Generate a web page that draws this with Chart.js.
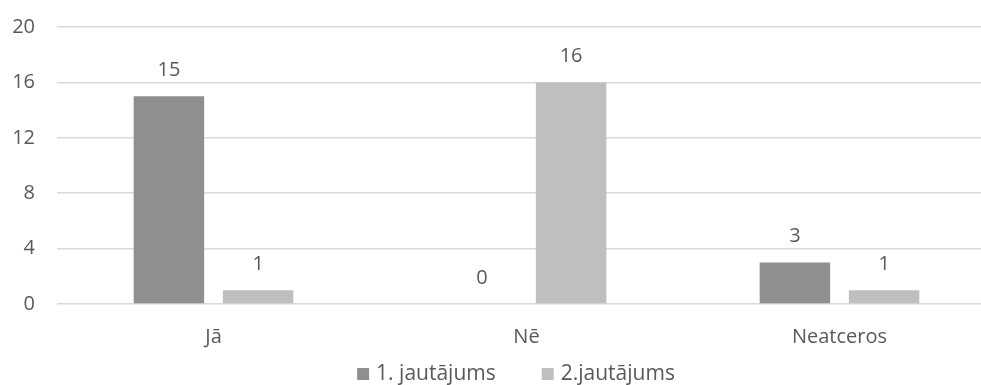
<!DOCTYPE html>
<html>
<head>
<meta charset="utf-8">
<script src="https://cdn.jsdelivr.net/npm/chart.js@4"></script>
<style>
  html, body { margin: 0; padding: 0; background: #fff; overflow: hidden; }
  #wrap { width: 996px; height: 385px; }
</style>
</head>
<body>
<div id="wrap"><canvas id="answersChart"></canvas></div>
<script>
  const categories = ["Jā", "Nē", "Neatceros"];
  const question1 = [15, 0, 3];
  const question2 = [1, 16, 1];
  const seriesNames = ["1. jautājums", "2.jautājums"];
  const yTicks = [0, 4, 8, 12, 16, 20];

  const textColor = "#595959";
  const fontFamily = "'Open Sans', 'Liberation Sans', sans-serif";

  // draws the value above each bar
  const valueLabels = {
    id: "valueLabels",
    afterDatasetsDraw(chart) {
      const ctx = chart.ctx;
      ctx.save();
      ctx.fillStyle = textColor;
      ctx.font = "20px " + fontFamily;
      ctx.textAlign = "center";
      ctx.textBaseline = "bottom";
      chart.data.datasets.forEach((ds, i) => {
        const meta = chart.getDatasetMeta(i);
        meta.data.forEach((bar, j) => {
          ctx.fillText(ds.data[j], bar.x, bar.y - 16);
        });
      });
      ctx.restore();
    }
  };

  // legend at the bottom, spaced like the office chart
  const bottomLegend = {
    id: "bottomLegend",
    afterDraw(chart) {
      const ctx = chart.ctx;
      ctx.save();
      ctx.font = "21px " + fontFamily;
      ctx.textBaseline = "alphabetic";
      const box = 12, gapBox = 7, gapItem = 46;
      const widths = chart.data.datasets.map(ds => ctx.measureText(ds.label).width);
      let total = 0;
      widths.forEach((w, i) => { total += box + gapBox + w + (i ? gapItem : 0); });
      let x = 516 - total / 2;
      const baseline = 380;
      chart.data.datasets.forEach((ds, i) => {
        ctx.fillStyle = ds.backgroundColor;
        ctx.fillRect(x, baseline - box, box, box);
        ctx.fillStyle = textColor;
        ctx.fillText(ds.label, x + box + gapBox, baseline);
        x += box + gapBox + widths[i] + gapItem;
      });
      ctx.restore();
    }
  };

  new Chart("answersChart", {
    type: "bar",
    data: {
      labels: categories,
      datasets: [{
        label: seriesNames[0],
        backgroundColor: "#8f8f8f",
        data: question1
      }, {
        label: seriesNames[1],
        backgroundColor: "#bfbfbf",
        data: question2
      }]
    },
    options: {
      responsive: true,
      maintainAspectRatio: false,
      animation: false,
      datasets: {
        bar: {categoryPercentage: 0.57, barPercentage: 0.79}
      },
      layout: {padding: {top: 27, right: 0, bottom: 23, left: 0}},
      scales: {
        y: {
          min: 0,
          max: 20,
          afterBuildTicks(axis) {
            axis.ticks = yTicks.map(v => ({value: v}));
          },
          afterFit(axis) {
            axis.width = 57;
            axis.paddingTop = 0;
            axis.paddingBottom = 0;
          },
          ticks: {
            color: textColor,
            font: {family: fontFamily, size: 20},
            padding: 22
          },
          grid: {color: "#d9d9d9", lineWidth: 1.5, drawTicks: false},
          border: {display: false}
        },
        x: {
          ticks: {
            color: textColor,
            font: {family: fontFamily, size: 20},
            padding: 13
          },
          grid: {display: false},
          border: {display: false}
        }
      },
      plugins: {
        legend: {display: false},
        tooltip: {enabled: false}
      }
    },
    plugins: [valueLabels, bottomLegend]
  });
</script>
</body>
</html>
